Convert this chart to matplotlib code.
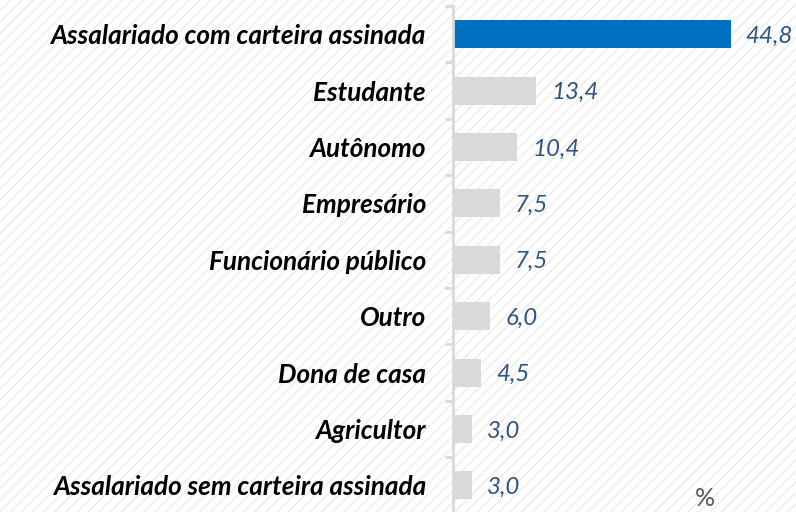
import matplotlib
matplotlib.use("Agg")
import matplotlib.pyplot as plt
from matplotlib.patches import Rectangle
from matplotlib.ticker import FixedLocator

categories = ["Assalariado com carteira assinada", "Estudante", "Autônomo", "Empresário",
              "Funcionário público", "Outro", "Dona de casa", "Agricultor",
              "Assalariado sem carteira assinada"]
values = [44.8, 13.4, 10.4, 7.5, 7.5, 6.0, 4.5, 3.0, 3.0]
value_labels = ["44,8", "13,4", "10,4", "7,5", "7,5", "6,0", "4,5", "3,0", "3,0"]
unit_label = "%"

plt.rcParams['hatch.linewidth'] = 1.0
plt.rcParams['hatch.color'] = '#EBEBEB'

W, H = 796, 512
fig = plt.figure(figsize=(W / 100, H / 100), dpi=100)
fig.patches.append(Rectangle((0, 0), 1, 1, transform=fig.transFigure, facecolor='white',
                             edgecolor='#EBEBEB', hatch='///', linewidth=0, zorder=-10))

left = 453 / W
bottom = 1 - 513.6 / H
top = 1 - 6 / H
ax = fig.add_axes([left, bottom, 1 - left, top - bottom])
ax.set_facecolor('none')

n = len(categories)
pos = list(range(n))
colors = ['#0070C0'] + ['#D9D9D9'] * (n - 1)
ax.barh(pos, values, height=0.5, color=colors, zorder=2)
ax.set_xlim(0, 343 / 6.2)
ax.set_ylim(n - 0.5, -0.5)

for s in ['top', 'right', 'bottom']:
    ax.spines[s].set_visible(False)
ax.spines['left'].set_color('#D9D9D9')
ax.spines['left'].set_linewidth(2)
ax.set_xticks([])
ax.set_yticks(pos)
ax.set_yticklabels(categories, fontfamily='Lato', fontweight='bold', fontstyle='italic',
                   fontsize=18.8, color='black')
ax.tick_params(axis='y', which='major', length=0, pad=19.5)
ax.yaxis.set_minor_locator(FixedLocator([i - 0.5 for i in range(n + 1)]))
ax.tick_params(axis='y', which='minor', length=6, width=2, color='#D9D9D9')

for p, v, lab in zip(pos, values, value_labels):
    ax.annotate(lab, (v, p), xytext=(15, -2), textcoords='offset pixels', va='center',
                ha='left', fontfamily='Lato', fontstyle='italic', fontsize=17.4,
                color='#2F5583')

fig.text(705 / W, 1 - 499 / H, unit_label, ha='center', va='center', fontsize=18,
         color='#595959', fontfamily='Lato')

fig.savefig('out.png', dpi=100)
